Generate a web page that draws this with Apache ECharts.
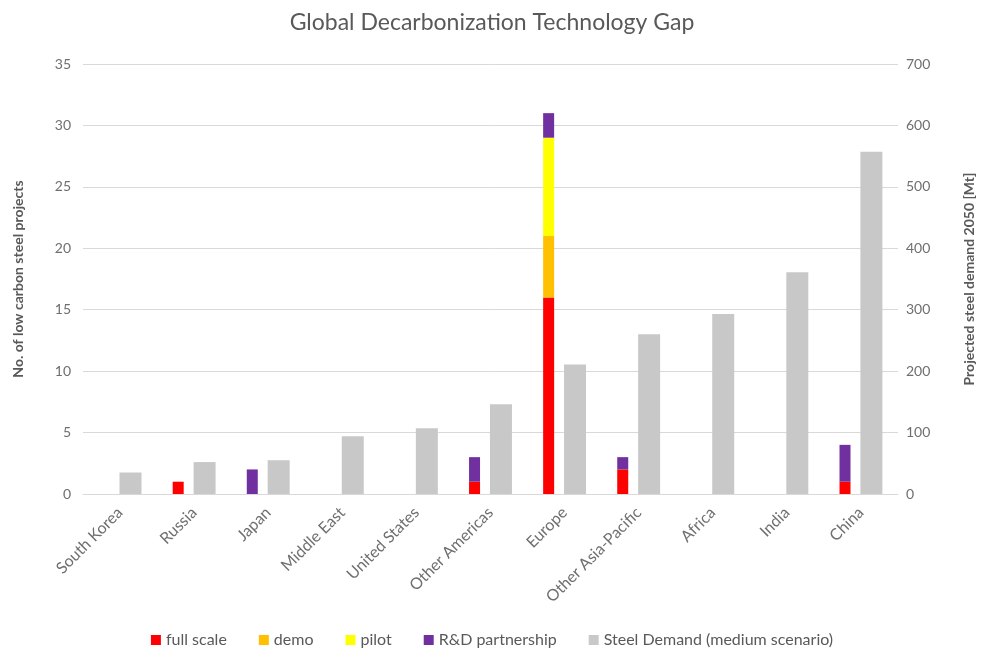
<!DOCTYPE html>
<html>
<head>
<meta charset="utf-8">
<script src="https://cdn.jsdelivr.net/npm/echarts@6/dist/echarts.min.js"></script>
<style>
  html, body { margin: 0; padding: 0; background: #fff; }
  #main { width: 984px; height: 655px; }
</style>
</head>
<body>
<div id="main"></div>
<script>
// data
const regions = ['South Korea', 'Russia', 'Japan', 'Middle East', 'United States', 'Other Americas',
  'Europe', 'Other Asia-Pacific', 'Africa', 'India', 'China'];
const fullScale = [0, 1, 0, 0, 0, 1, 16, 2, 0, 0, 1];
const demo = [0, 0, 0, 0, 0, 0, 5, 0, 0, 0, 0];
const pilot = [0, 0, 0, 0, 0, 0, 8, 0, 0, 0, 0];
const rdPartnership = [0, 0, 2, 0, 0, 2, 2, 1, 0, 0, 3];
const steelDemand = [35, 52, 55, 94, 107, 146, 211, 260, 293, 361, 557];

const font = 'Lato';
const textGrey = '#595959';

// zero values should not draw anything
const nz = arr => arr.map(v => (v === 0 ? null : v));

const chart = echarts.init(document.getElementById('main'));

const stackSeries = (name, data, color) => ({
  name: name,
  type: 'bar',
  stack: 'projects',
  yAxisIndex: 0,
  barWidth: 11,
  barGap: '90%',
  itemStyle: { color: color },
  data: nz(data)
});

chart.setOption({
  textStyle: { fontFamily: font },
  title: {
    text: 'Global Decarbonization Technology Gap',
    left: 'center',
    top: 6,
    textStyle: { fontFamily: font, fontSize: 23, fontWeight: 'normal', color: textGrey }
  },
  legend: {
    bottom: 2,
    left: 'center',
    itemWidth: 10,
    itemHeight: 10,
    itemGap: 32,
    icon: 'rect',
    textStyle: { fontFamily: font, fontSize: 16, color: textGrey }
  },
  grid: { left: 83, right: 83, top: 64, bottom: 161 },
  xAxis: {
    type: 'category',
    data: regions,
    axisLine: { lineStyle: { color: '#d9d9d9' } },
    axisTick: { show: false },
    axisLabel: { rotate: 45, fontFamily: font, fontSize: 16, color: '#6f6f6f', interval: 0, margin: 16 }
  },
  yAxis: [
    {
      type: 'value',
      min: 0,
      max: 35,
      interval: 5,
      name: 'No. of low carbon steel projects',
      nameLocation: 'middle',
      nameGap: 58,
      nameTextStyle: { fontFamily: font, fontSize: 14, fontWeight: 'bold', color: textGrey },
      axisLabel: { fontFamily: font, fontSize: 14, color: '#6f6f6f', margin: 12 },
      splitLine: { lineStyle: { color: '#d9d9d9' } }
    },
    {
      type: 'value',
      min: 0,
      max: 700,
      interval: 100,
      name: 'Projected steel demand 2050 [Mt]',
      nameLocation: 'middle',
      nameGap: 64,
      nameTextStyle: { fontFamily: font, fontSize: 14, fontWeight: 'bold', color: textGrey },
      axisLabel: { fontFamily: font, fontSize: 14, color: '#6f6f6f', margin: 8 },
      splitLine: { show: false }
    }
  ],
  series: [
    stackSeries('full scale', fullScale, '#ff0000'),
    stackSeries('demo', demo, '#ffc000'),
    stackSeries('pilot', pilot, '#ffff00'),
    stackSeries('R&D partnership', rdPartnership, '#7030a0'),
    {
      name: 'Steel Demand (medium scenario)',
      type: 'bar',
      yAxisIndex: 1,
      barWidth: 22,
      itemStyle: { color: '#c8c8c8' },
      data: steelDemand
    }
  ]
});
</script>
</body>
</html>
